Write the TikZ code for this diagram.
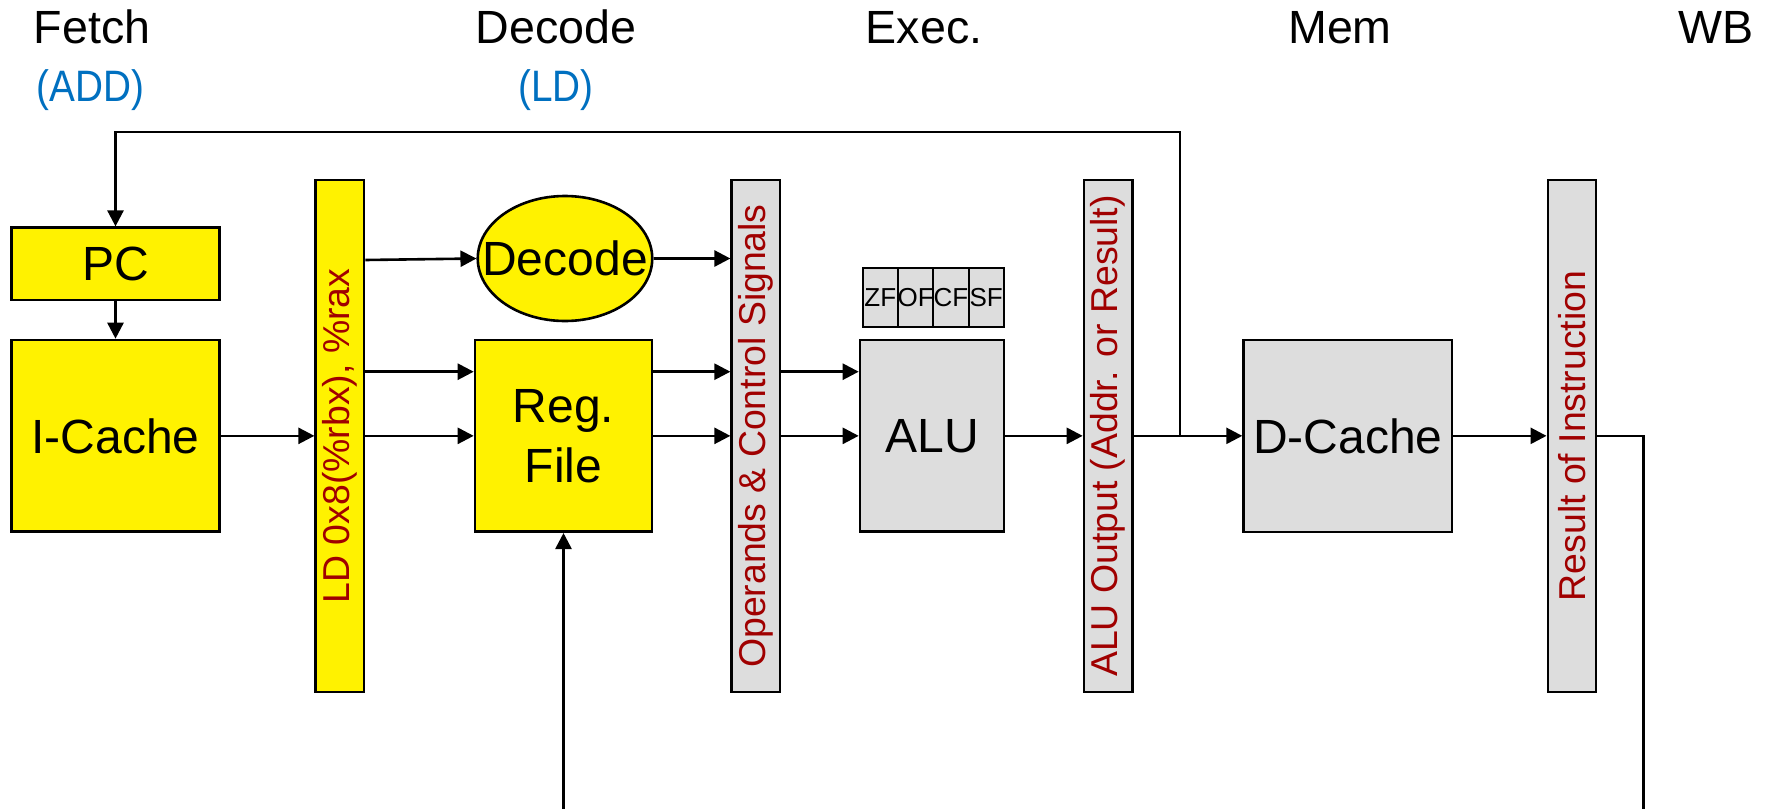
\documentclass[tikz,border=0pt]{standalone}
\usepackage{fontspec}
\setmainfont{Liberation Sans}
\usetikzlibrary{arrows.meta,shapes.geometric,calc}
\definecolor{dred}{HTML}{A00000}
\definecolor{gfill}{HTML}{DDDDDD}
\definecolor{iblue}{HTML}{0070C0}
\begin{document}
\begin{tikzpicture}[x=0.5pt,y=-0.5pt,line width=1.3pt,
  arr/.style={-{Triangle[length=8pt,width=8pt]}},
  boxbase/.style={draw,inner sep=0pt,align=center,font=\fontsize{24}{30}\selectfont},
  ybox/.style={boxbase,fill=yellow},
  gbox/.style={boxbase,fill=gfill},
  bar/.style={draw,inner sep=0pt,minimum width=24.15pt,minimum height=256pt},
  barlabel/.style={rotate=90,text=dred,font=\fontsize{18.7}{22}\selectfont},
  stagelabel/.style={anchor=base,font=\fontsize{23.3}{28}\selectfont},
  instlabel/.style={anchor=base,text=iblue,font=\fontsize{22}{26}\selectfont},
  flag/.style={draw,fill=gfill,line width=1pt,inner sep=0pt,minimum width=17.65pt,minimum height=29.5pt,font=\fontsize{13}{15}\selectfont}]
\fill[white] (0,0) rectangle (1769,809);
\useasboundingbox (0,0) rectangle (1769,809);

% stage headers
\node[stagelabel] (hF) at (92,43) {Fetch};
\node[stagelabel] (hD) at (556,43) {Decode};
\node[stagelabel] (hE) at (924,43) {Exec.};
\node[stagelabel] (hM) at (1340,43) {Mem};
\node[stagelabel] (hW) at (1716,43) {WB};
\node[instlabel] (iF) at (90.5,101) {\scalebox{0.88}[1]{(ADD)}};
\node[instlabel] (iD) at (556,101) {\scalebox{0.88}[1]{(LD)}};

% boxes
\node[ybox,minimum width=104pt,minimum height=36.15pt] (pc) at (115.5,263.85) {PC};
\node[ybox,minimum width=104pt,minimum height=95.85pt] (ic) at (115.5,435.85) {I-Cache};
\node[bar,fill=yellow] (ld) at (339.85,436) {};
\node[barlabel] (ldl) at (ld.center) {LD 0x8(\%rbx), \%rax};
\node[draw,fill=yellow,ellipse,inner sep=0pt,minimum width=87.25pt,minimum height=62.5pt] (dec) at (565,258.5) {};
\node[font=\fontsize{24}{30}\selectfont,inner sep=0pt] (decl) at (dec.center) {Decode};
\node[ybox,minimum width=88.5pt,minimum height=95.85pt] (rf) at (563.5,435.85) {Reg.\\File};
\node[bar,fill=gfill] (ops) at (755.85,436) {};
\node[barlabel] (opsl) at (ops.center) {Operands \& Control Signals};
\node[flag] (zf) at (880.35,297.2) {ZF};
\node[flag] (of) at (915.65,297.2) {OF};
\node[flag] (cf) at (950.95,297.2) {CF};
\node[flag] (sf) at (986.25,297.2) {SF};
\node[gbox,minimum width=72pt,minimum height=95.85pt] (alu) at (932,435.85) {ALU};
\node[bar,fill=gfill] (ao) at (1108.15,436) {};
\node[barlabel] (aol) at (ao.center) {ALU Output (Addr. or Result)};
\node[gbox,minimum width=104.2pt,minimum height=96pt] (dc) at (1347.8,436) {D-Cache};
\node[bar,fill=gfill] (res) at (1572,436) {};
\node[barlabel] (resl) at (res.center) {Result of Instruction};

% coordinates
\coordinate (top) at (0,132);
\coordinate (j) at (1180,435.85);
\coordinate (r0) at (0,258.5);
\coordinate (r1) at (0,371.7);
\coordinate (r2) at (0,435.85);
\coordinate (out) at (1643.5,809);
\coordinate (in) at (564,809);

% connectors
\draw[arr] (j) -- (j |- top) -- (pc.north |- top) -- (pc.north);
\draw[arr] (pc.south) -- (ic.north);
\draw[arr] (ic.east) -- (ld.west |- r2);
\draw[arr] ($(ld.east |- r0)+(0,1.5)$) -- (dec.west);
\draw[arr] (dec.east) -- (ops.west |- dec.east);
\draw[arr] (ld.east |- r1) -- (rf.west |- r1);
\draw[arr] (ld.east |- r2) -- (rf.west |- r2);
\draw[arr] (rf.east |- r1) -- (ops.west |- r1);
\draw[arr] (rf.east |- r2) -- (ops.west |- r2);
\draw[arr] (ops.east |- r1) -- (alu.west |- r1);
\draw[arr] (ops.east |- r2) -- (alu.west |- r2);
\draw[arr] (alu.east |- r2) -- (ao.west |- r2);
\draw[arr] (ao.east |- r2) -- (dc.west |- r2);
\draw[arr] (dc.east |- r2) -- (res.west |- r2);
\draw (res.east |- r2) -- (out |- r2) -- (out);
\draw[arr] (rf.south |- in) -- (rf.south);
\end{tikzpicture}
\end{document}
